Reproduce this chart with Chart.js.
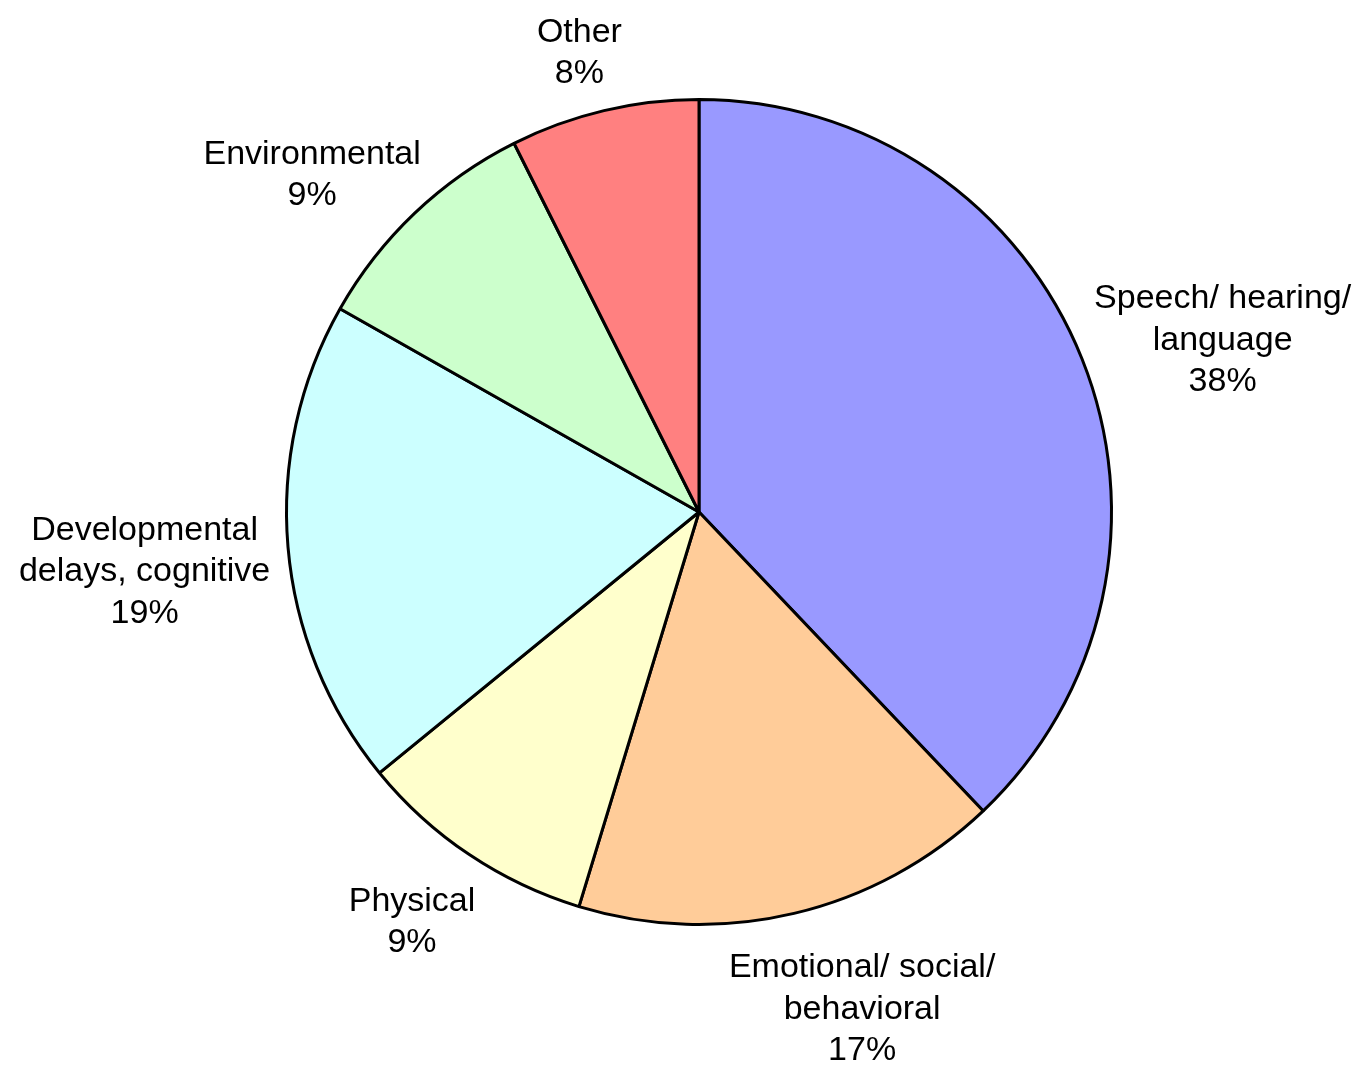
<!DOCTYPE html>
<html>
<head>
<meta charset="utf-8">
<script src="https://cdn.jsdelivr.net/npm/chart.js@4"></script>
<style>
  html, body { margin: 0; padding: 0; background: #ffffff; }
  #wrap { width: 1371px; height: 1065px; position: relative; }
</style>
</head>
<body>
<div id="wrap"><canvas id="c" width="1371" height="1065"></canvas></div>
<script>
const categories = [
  ["Speech/ hearing/", "language"],
  ["Emotional/ social/", "behavioral"],
  ["Physical"],
  ["Developmental", "delays, cognitive"],
  ["Environmental"],
  ["Other"]
];
const values = [37.9, 16.8, 9.4, 19.1, 9.4, 7.4];
const percentLabels = ["38%", "17%", "9%", "19%", "9%", "8%"];
const sliceColors = ["#9999FF", "#FFCC99", "#FFFFCC", "#CCFFFF", "#CCFFCC", "#FF8080"];

const FONT_SIZE = 34;
const LINE_H = 41.5;
const GAP = 18;

const outsideLabels = {
  id: 'outsideLabels',
  afterDatasetsDraw(chart) {
    const ctx = chart.ctx;
    const meta = chart.getDatasetMeta(0);
    ctx.save();
    ctx.font = FONT_SIZE + 'px "Liberation Sans", Arial, sans-serif';
    ctx.fillStyle = '#000000';
    ctx.textAlign = 'center';
    ctx.textBaseline = 'middle';
    meta.data.forEach((arc, i) => {
      const p = arc.getProps(['x', 'y', 'startAngle', 'endAngle', 'outerRadius'], true);
      const mid = (p.startAngle + p.endAngle) / 2;
      const dx = Math.cos(mid), dy = Math.sin(mid);
      const lines = categories[i].concat([percentLabels[i]]);
      let w = 0;
      lines.forEach(l => { w = Math.max(w, ctx.measureText(l).width); });
      const hw = w / 2;
      const hh = lines.length * LINE_H / 2;
      const ax = p.x + dx * (p.outerRadius + GAP);
      const ay = p.y + dy * (p.outerRadius + GAP);
      const cx = ax + Math.sign(dx) * Math.sqrt(Math.abs(dx)) * hw;
      const cy = ay + dy * hh + 18 * Math.min(1, 1 + dy);
      lines.forEach((l, k) => {
        const ly = cy - hh + LINE_H * (k + 0.5);
        ctx.fillText(l, cx, ly);
      });
    });
    ctx.restore();
  }
};

new Chart(document.getElementById('c'), {
  type: 'pie',
  data: {
    labels: categories.map(c => c.join(' ')),
    datasets: [{
      data: values,
      backgroundColor: sliceColors,
      borderColor: '#000000',
      borderWidth: 3,
      hoverOffset: 0,
      offset: 0
    }]
  },
  options: {
    responsive: false,
    animation: false,
    devicePixelRatio: 1,
    layout: { padding: { top: 97, bottom: 138, left: 285, right: 258 } },
    plugins: {
      legend: { display: false },
      tooltip: { enabled: false }
    }
  },
  plugins: [outsideLabels]
});
</script>
</body>
</html>
